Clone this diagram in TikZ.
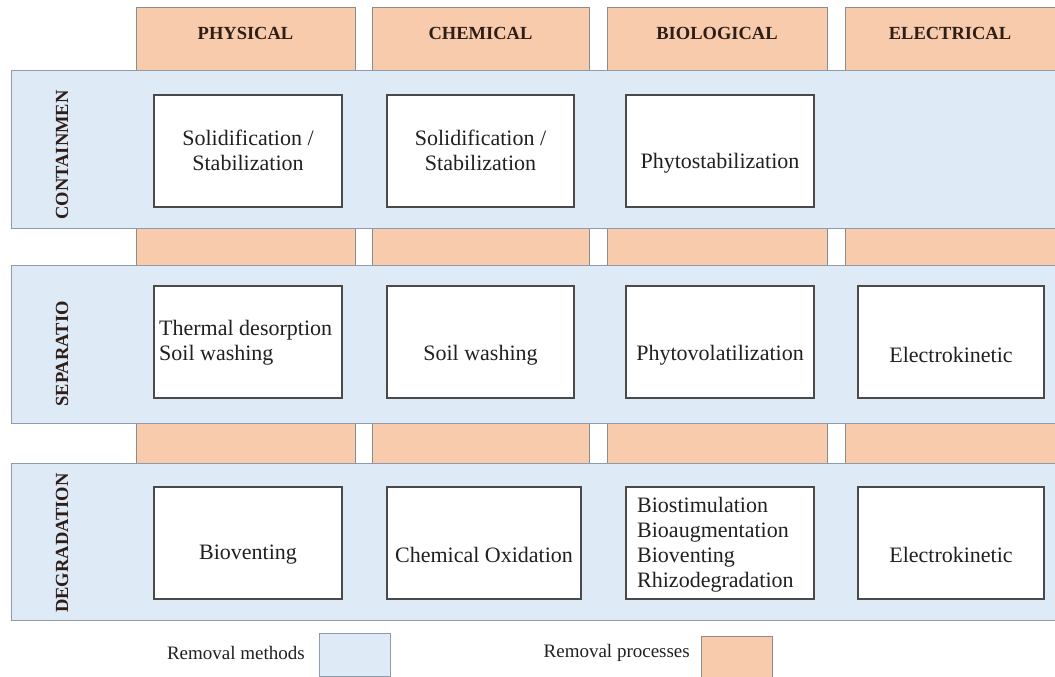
\documentclass[tikz,border=0pt]{standalone}
\usepackage{fontspec}
\setmainfont{Liberation Serif}
\newfontfamily\bodyserif{Liberation Serif}
\definecolor{procfill}{HTML}{F8CBAD}
\definecolor{procline}{HTML}{8C8C8C}
\definecolor{bandfill}{HTML}{DEEAF6}
\definecolor{bandline}{HTML}{8E9BAA}
\definecolor{boxline}{HTML}{4A4A4A}
\definecolor{txtcol}{HTML}{202020}
\definecolor{hdcol}{HTML}{2E1E18}
\tikzset{
  proc/.style={draw=procline, fill=procfill, line width=0.9pt},
  band/.style={draw=bandline, fill=bandfill, line width=0.9pt},
  tbox/.style={draw=boxline, fill=white, line width=1.2pt, inner sep=0pt},
  txt/.style={font=\bodyserif\fontsize{22}{25}\selectfont, text=txtcol, inner sep=0pt, align=center},
  ltxt/.style={txt, align=left, anchor=west},
  hd/.style={font=\bodyserif\bfseries\fontsize{18.5}{21}\selectfont, text=hdcol, inner sep=0pt},
  side/.style={hd, rotate=90},
  leg/.style={font=\bodyserif\fontsize{19}{21}\selectfont, text=txtcol, inner sep=0pt}
}
\begin{document}
\begin{tikzpicture}[x=1pt,y=-1pt]
\useasboundingbox (0,0) rectangle (1055,677);
% header processes
\draw[proc] (136,7) rectangle (355,70);
\draw[proc] (372,7) rectangle (589,70);
\draw[proc] (607,7) rectangle (827,70);
\draw[proc] (845,7) rectangle (1056,70);
\node[hd] (hphys) at (245.5,33) {PHYSICAL};
\node[hd] (hchem) at (480.5,33) {CHEMICAL};
\node[hd] (hbio) at (717,33) {BIOLOGICAL};
\node[hd] (helec) at (950,33) {ELECTRICAL};
% process strips
\foreach \ya/\yb in {228/265, 423/463}{
  \draw[proc] (136,\ya) rectangle (355,\yb);
  \draw[proc] (372,\ya) rectangle (589,\yb);
  \draw[proc] (607,\ya) rectangle (827,\yb);
  \draw[proc] (845,\ya) rectangle (1056,\yb);
}
% method bands
\draw[band] (11,70) rectangle (1056,228);
\draw[band] (11,265) rectangle (1056,423);
\draw[band] (11,463) rectangle (1056,620);
\node[side] (lcont) at (62,155) {CONTAINMEN};
\node[side] (lsep) at (62,354) {SEPARATIO};
\node[side] (ldeg) at (62,543) {DEGRADATION};
% row 1
\node[tbox, minimum width=188pt, minimum height=112pt] (b11) at (248,151) {};
\node[tbox, minimum width=187pt, minimum height=112pt] (b12) at (480.5,151) {};
\node[tbox, minimum width=188pt, minimum height=112pt] (b13) at (720,151) {};
\node[txt] (t11) at (248,150.5) {Solidification /\\Stabilization};
\node[txt] (t12) at (480.5,150.5) {Solidification /\\Stabilization};
\node[txt] (t13) at (720,163) {Phytostabilization};
% row 2
\node[tbox, minimum width=188pt, minimum height=112pt] (b21) at (248,342) {};
\node[tbox, minimum width=187pt, minimum height=112pt] (b22) at (480.5,342) {};
\node[tbox, minimum width=188pt, minimum height=112pt] (b23) at (720,342) {};
\node[tbox, minimum width=186pt, minimum height=112pt] (b24) at (951,342) {};
\node[ltxt] (t21) at (159,343) {Thermal desorption\\Soil washing};
\node[txt] (t22) at (480.5,355) {Soil washing};
\node[txt] (t23) at (720,355) {Phytovolatilization};
\node[txt] (t24) at (951,355) {Electrokinetic};
% row 3
\node[tbox, minimum width=188pt, minimum height=112pt] (b31) at (248,543) {};
\node[tbox, minimum width=194pt, minimum height=112pt] (b32) at (484,543) {};
\node[tbox, minimum width=188pt, minimum height=112pt] (b33) at (720,543) {};
\node[tbox, minimum width=186pt, minimum height=112pt] (b34) at (951,543) {};
\node[txt] (t31) at (248,555) {Bioventing};
\node[txt] (t32) at (484,555) {Chemical Oxidation};
\node[ltxt] (t33) at (637,545) {Biostimulation\\Bioaugmentation\\Bioventing\\Rhizodegradation};
\node[txt] (t34) at (951,555) {Electrokinetic};
% legend
\node[leg, anchor=east] (lm) at (305,653) {Removal methods};
\draw[band] (319,633) rectangle (390,676);
\node[leg, anchor=east] (lp) at (690,653) {Removal processes};
\draw[proc] (701,636) rectangle (772,678);
\end{tikzpicture}
\end{document}
